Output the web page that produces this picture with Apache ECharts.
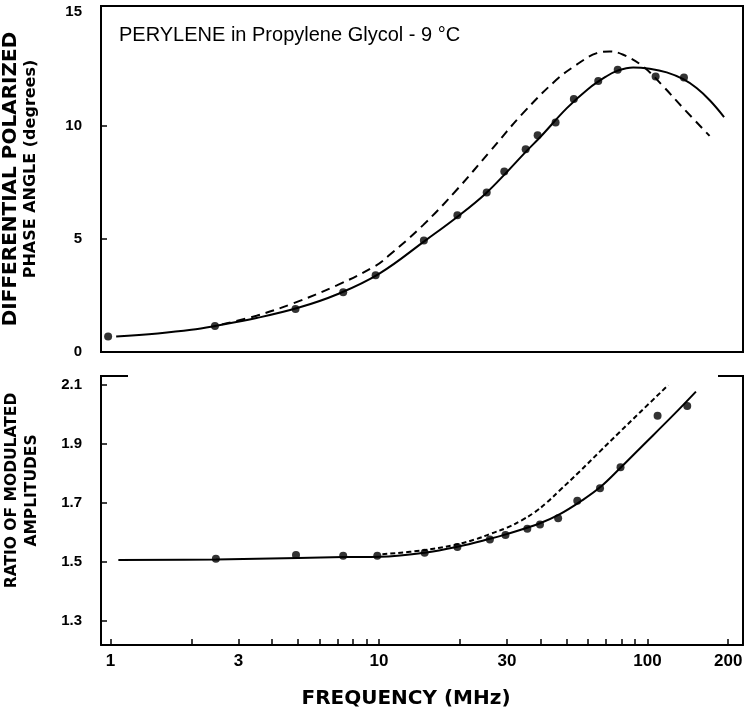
<!DOCTYPE html>
<html><head><meta charset="utf-8">
<script src="https://cdn.jsdelivr.net/npm/echarts@6/dist/echarts.min.js"></script>
<style>html,body{margin:0;padding:0;background:#fff}#c{width:750px;height:708px}</style>
</head><body><div id="c"></div>
<script>
// ---- tick values / labels ----
const xLabelTicks = [1, 3, 10, 30, 100, 200];
const xMinorTicks = [1, 2, 3, 4, 5, 6, 7, 8, 9, 10, 20, 30, 40, 50, 60, 70, 80, 90, 100, 200];
const phaseTicks = [0, 5, 10, 15];
const ratioTicks = [1.3, 1.5, 1.7, 1.9, 2.1];

// ---- top panel: differential polarized phase angle (degrees) ----
const phasePointFreq  = [0.98, 2.45, 4.89, 7.36, 9.72, 14.7, 19.6, 25.2, 29.3, 35.2, 39.0, 45.5, 53.2, 65.6, 77.5, 107.3, 136.8];
const phasePointValue = [0.68, 1.15, 1.90, 2.64, 3.39, 4.92, 6.04, 7.04, 7.97, 8.95, 9.57, 10.13, 11.17, 11.96, 12.46, 12.16, 12.12];

const phaseSolidFreq  = [1.05, 1.5, 2, 2.45, 3.5, 5, 7, 10, 15, 20, 25, 30, 35, 40, 50, 60, 70, 77.5, 88.5, 102, 118, 136, 152.5, 171, 193];
const phaseSolidValue = [0.68, 0.82, 0.98, 1.15, 1.5, 1.95, 2.55, 3.45, 4.95, 6.05, 7.0, 7.95, 8.8, 9.5, 10.75, 11.6, 12.15, 12.42, 12.56, 12.5, 12.34, 12.04, 11.65, 11.10, 10.37];

const phaseDashFreq  = [2.6, 3.5, 4.8, 7, 9.7, 11, 14.6, 19.5, 25.9, 34.4, 45.7, 54.5, 64.8, 72.4, 81.3, 96.4, 114.6, 136, 170.4];
const phaseDashValue = [1.22, 1.6, 2.15, 2.95, 3.8, 4.3, 5.6, 7.16, 8.85, 10.54, 12.0, 12.68, 13.19, 13.26, 13.12, 12.6, 11.72, 10.76, 9.54];

// ---- bottom panel: ratio of modulated amplitudes ----
const ratioPointFreq  = [2.47, 4.91, 7.36, 9.86, 14.8, 19.6, 25.9, 29.6, 35.7, 39.8, 46.5, 54.8, 66.6, 79.4, 109.1, 140.7];
const ratioPointValue = [1.509, 1.522, 1.520, 1.520, 1.530, 1.549, 1.575, 1.590, 1.611, 1.626, 1.647, 1.706, 1.749, 1.820, 1.995, 2.028];

const ratioSolidFreq  = [1.07, 2.47, 5, 7.4, 10.1, 14.8, 19.6, 25.9, 29.9, 39.8, 47.2, 56.1, 66.6, 78.9, 93.7, 124.8, 151.6];
const ratioSolidValue = [1.505, 1.507, 1.512, 1.515, 1.516, 1.530, 1.550, 1.577, 1.593, 1.630, 1.661, 1.703, 1.752, 1.816, 1.884, 1.997, 2.077];

const ratioDashFreq  = [10.3, 14.6, 19, 23, 26, 30, 34, 38, 42, 47.2, 56.1, 66.6, 78.9, 93.7, 119.5];
const ratioDashValue = [1.525, 1.538, 1.556, 1.576, 1.594, 1.615, 1.640, 1.667, 1.699, 1.742, 1.807, 1.874, 1.940, 2.006, 2.099];

const zip = (a, b) => a.map((v, i) => [v, b[i]]);
const BLACK = '#000';
const X_MIN = 0.922, X_MAX = 227;

const chart = echarts.init(document.getElementById('c'), null, {renderer: 'canvas'});
const labelFont = {color: BLACK, fontFamily: 'Liberation Sans', fontWeight: 'bold'};

chart.setOption({
  animation: false,
  backgroundColor: '#fff',
  title: {
    text: 'PERYLENE in Propylene Glycol - 9 \u00B0C',
    left: 119, top: 25, padding: 0,
    textStyle: {color: BLACK, fontFamily: 'Liberation Sans', fontWeight: 'normal', fontSize: 20}
  },
  grid: [
    {left: 101, right: 7, top: 6, height: 346, outerBoundsMode: 'none', containLabel: false,
      show: true, borderColor: BLACK, borderWidth: 2, backgroundColor: 'transparent'},
    {left: 101, right: 7, top: 376, height: 269, outerBoundsMode: 'none', containLabel: false}
  ],
  xAxis: [
    {
      gridIndex: 0, type: 'log', min: X_MIN, max: X_MAX, logBase: 10,
      axisLine: {show: true, lineStyle: {color: BLACK, width: 2}},
      axisTick: {show: false}, axisLabel: {show: false}, splitLine: {show: false}, minorTick: {show: false}
    },
    {
      gridIndex: 1, type: 'log', min: X_MIN, max: X_MAX, logBase: 10,
      axisLine: {show: true, lineStyle: {color: BLACK, width: 2}},
      axisTick: {show: true, inside: true, length: 6, customValues: xMinorTicks, lineStyle: {color: BLACK, width: 1.5}},
      axisLabel: Object.assign({show: true, customValues: xLabelTicks, fontSize: 17, margin: 8,
        formatter: v => String(Math.round(v))}, labelFont),
      splitLine: {show: false}, minorTick: {show: false},
      name: 'FREQUENCY (MHz)', nameLocation: 'middle', nameGap: 44,
      nameTextStyle: {color: BLACK, fontFamily: 'DejaVu Sans', fontWeight: 'bold', fontSize: 20, padding: [0, 32, 0, 0]}
    }
  ],
  yAxis: [
    {
      gridIndex: 0, type: 'value', min: 0, max: 15.27,
      axisLine: {show: true, lineStyle: {color: BLACK, width: 2}},
      axisTick: {show: true, inside: true, length: 6, customValues: [5, 10], lineStyle: {color: BLACK, width: 1.5}},
      axisLabel: Object.assign({show: true, customValues: phaseTicks, fontSize: 15, margin: 19}, labelFont),
      splitLine: {show: false},
      name: '{a|DIFFERENTIAL POLARIZED}\n{b|PHASE ANGLE (degrees)}',
      nameLocation: 'middle', nameRotate: 90, nameGap: 60,
      nameTextStyle: {
        color: BLACK,
        rich: {
          a: {fontFamily: 'DejaVu Sans', fontWeight: 'bold', fontSize: 20, lineHeight: 20, color: BLACK},
          b: {fontFamily: 'DejaVu Sans', fontWeight: 'bold', fontSize: 16, lineHeight: 20, color: BLACK, padding: [0, 0, 0, 20]}
        }
      }
    },
    {
      gridIndex: 1, type: 'value', min: 1.2165, max: 2.13,
      axisLine: {show: true, lineStyle: {color: BLACK, width: 2}},
      axisTick: {show: true, inside: true, length: 6, customValues: ratioTicks, lineStyle: {color: BLACK, width: 1.5}},
      axisLabel: Object.assign({show: true, customValues: ratioTicks, fontSize: 15, margin: 19,
        formatter: v => v.toFixed(1)}, labelFont),
      splitLine: {show: false},
      name: '{a|RATIO OF MODULATED}\n{a|AMPLITUDES}',
      nameLocation: 'middle', nameRotate: 90, nameGap: 59,
      nameTextStyle: {
        color: BLACK, padding: [0, 0, 0, 40],
        rich: {
          a: {fontFamily: 'DejaVu Sans', fontWeight: 'bold', fontSize: 15.5, lineHeight: 20, color: BLACK}
        }
      }
    },
    {
      gridIndex: 1, type: 'value', min: 1.2165, max: 2.13, position: 'right',
      axisLine: {show: true, lineStyle: {color: BLACK, width: 2}},
      axisTick: {show: false}, axisLabel: {show: false}, splitLine: {show: false}
    }
  ],
  graphic: [
    {type: 'line', shape: {x1: 100, y1: 376, x2: 128, y2: 376}, style: {stroke: BLACK, lineWidth: 2}},
    {type: 'line', shape: {x1: 718, y1: 376, x2: 744, y2: 376}, style: {stroke: BLACK, lineWidth: 2}}
  ],
  series: [
    {type: 'line', xAxisIndex: 0, yAxisIndex: 0, data: zip(phaseSolidFreq, phaseSolidValue),
      showSymbol: false, smooth: 0.4, lineStyle: {color: BLACK, width: 2}},
    {type: 'line', xAxisIndex: 0, yAxisIndex: 0, data: zip(phaseDashFreq, phaseDashValue),
      showSymbol: false, smooth: 0.4, lineStyle: {color: BLACK, width: 2, type: [9, 6]}},
    {type: 'scatter', xAxisIndex: 0, yAxisIndex: 0, data: zip(phasePointFreq, phasePointValue),
      symbol: 'circle', symbolSize: 8, itemStyle: {color: BLACK}},
    {type: 'line', xAxisIndex: 1, yAxisIndex: 1, data: zip(ratioSolidFreq, ratioSolidValue),
      showSymbol: false, smooth: 0.4, lineStyle: {color: BLACK, width: 2}},
    {type: 'line', xAxisIndex: 1, yAxisIndex: 1, data: zip(ratioDashFreq, ratioDashValue),
      showSymbol: false, smooth: 0.4, lineStyle: {color: BLACK, width: 2, type: [5, 3]}},
    {type: 'scatter', xAxisIndex: 1, yAxisIndex: 1, data: zip(ratioPointFreq, ratioPointValue),
      symbol: 'circle', symbolSize: 8, itemStyle: {color: BLACK}}
  ]
});
</script>
</body></html>
